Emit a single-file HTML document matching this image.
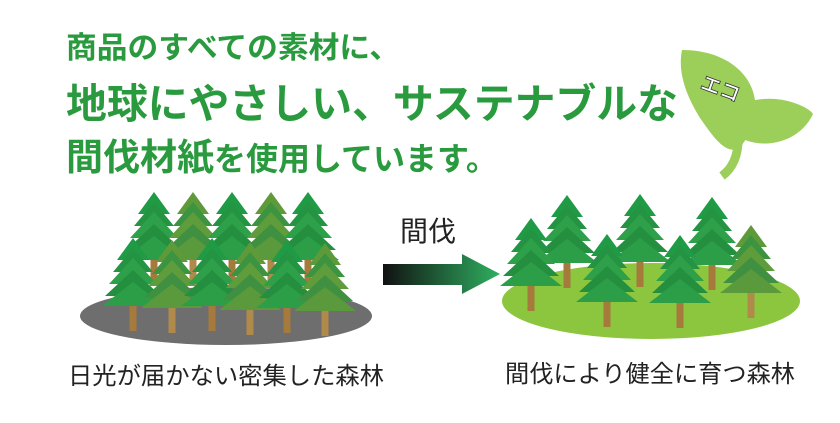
<!DOCTYPE html>
<html><head><meta charset="utf-8"><style>
body{margin:0;background:#fff;}
svg{display:block}
</style></head><body>
<svg width="840" height="423" viewBox="0 0 840 423" xmlns="http://www.w3.org/2000/svg">
<defs>
<g id="t">
<rect x="-3.5" y="55" width="7" height="38" fill="#a57a3c"/>
<polygon points="0,0 16,22 -16,22" fill="#1f9a45"/>
<polygon points="0,10 20,34 -20,34" fill="#249443"/>
<polygon points="0,20 24,46 -24,46" fill="#2ea04a"/>
<polygon points="0,32 28,58 -28,58" fill="#24903f"/>
<polygon points="0,44 31,68 -31,68" fill="#2c9e48"/>
</g>
<g id="o">
<rect x="-3.5" y="55" width="7" height="38" fill="#b08a4a"/>
<polygon points="0,0 16,22 -16,22" fill="#5e9a3a"/>
<polygon points="0,10 20,34 -20,34" fill="#3d9440"/>
<polygon points="0,20 24,46 -24,46" fill="#5f9c3c"/>
<polygon points="0,32 28,58 -28,58" fill="#3f9040"/>
<polygon points="0,44 31,68 -31,68" fill="#5a9a3c"/>
</g>
<linearGradient id="ar" x1="0" x2="1"><stop offset="0" stop-color="#111"/><stop offset="1" stop-color="#2fb060"/></linearGradient>
</defs>
<text font-family="Liberation Sans,'Noto Sans CJK JP',sans-serif" font-weight="bold" fill="#2a9a3e">
<tspan x="66" y="58" font-size="30" textLength="334" lengthAdjust="spacingAndGlyphs">商品のすべての素材に、</tspan>
<tspan x="66" y="118" font-size="41" textLength="612" lengthAdjust="spacingAndGlyphs">地球にやさしい、サステナブルな</tspan>
<tspan x="66" y="170" font-size="37">間伐材紙</tspan><tspan font-size="32">を使用しています。</tspan>
</text>
<!-- leaf -->
<path d="M682,50 C745,50 775,100 742,145 C728,160 712,135 700,118 C684,92 678,70 682,50Z" fill="#9ccf5a"/>
<path d="M748,102 C780,92 810,108 813,114 C802,138 772,150 745,140 C738,128 738,110 748,102Z" fill="#9ccf5a"/>
<path d="M738,140 C738,155 733,168 722,176" stroke="#9ccf5a" stroke-width="9" fill="none"/>
<text x="700" y="92" font-family="Liberation Sans,'Noto Sans CJK JP',sans-serif" font-weight="bold" font-size="20" fill="#fff" stroke="#333" stroke-width="0.8" transform="rotate(20 710 88)">エコ</text>
<!-- left forest -->
<ellipse cx="226" cy="316" rx="146" ry="29" fill="#6f6e6e"/>
<use href="#t" x="154" y="192"/><use href="#o" x="193" y="192"/><use href="#t" x="232" y="192"/><use href="#o" x="271" y="192"/><use href="#t" x="308" y="192"/>
<use href="#t" x="133" y="238"/><use href="#o" x="172" y="240"/><use href="#t" x="212" y="238"/><use href="#o" x="250" y="242"/><use href="#t" x="287" y="240"/><use href="#o" x="325" y="243"/>
<!-- arrow -->
<text x="400" y="241" font-family="Liberation Sans,'Noto Sans CJK JP',sans-serif" font-size="28" fill="#222">間伐</text>
<polygon points="383,264 462,264 462,254 500,274 462,294 462,285 383,285" fill="url(#ar)"/>
<!-- right forest -->
<ellipse cx="651" cy="301" rx="149" ry="38" fill="#8cc63f"/>
<use href="#t" x="567" y="195"/><use href="#t" x="640" y="194"/><use href="#t" x="712" y="197"/>
<use href="#t" x="531" y="218"/><use href="#t" x="607" y="234"/><use href="#t" x="680" y="235"/><use href="#o" x="751" y="225"/>
<g font-family="Liberation Sans,'Noto Sans CJK JP',sans-serif" font-size="24" fill="#222">
<text x="68" y="384" textLength="316" lengthAdjust="spacingAndGlyphs">日光が届かない密集した森林</text>
<text x="505" y="382" textLength="290" lengthAdjust="spacingAndGlyphs">間伐により健全に育つ森林</text>
</g>
</svg>
</body></html>
